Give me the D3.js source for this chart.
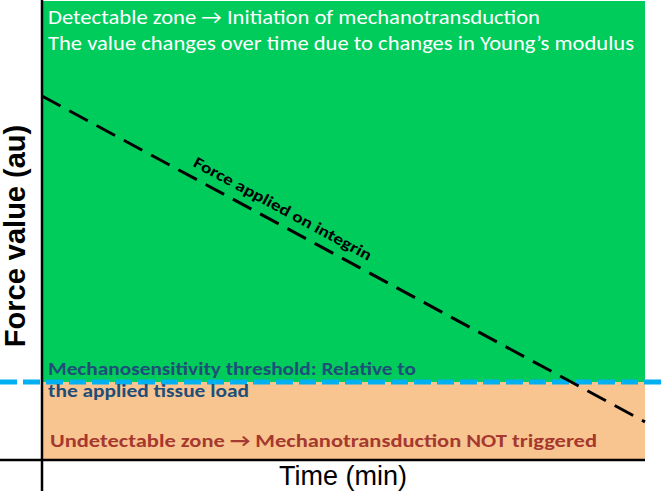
<!DOCTYPE html>
<html>
<head>
<meta charset="utf-8">
<script src="https://cdn.jsdelivr.net/npm/d3@7"></script>
<style>
  html, body { margin: 0; padding: 0; background: #ffffff; }
  svg { display: block; }
</style>
</head>
<body>
<div id="chart"></div>
<script>
// ---- data ----
const timeDomain = [0, 100];          // Time (min), arbitrary
const forceDomain = [0, 100];         // Force value (au), arbitrary
const forceLineTimes = [0, 100];
const forceLineValues = [79.3, 8.3];  // force applied on integrin
const thresholdValue = 17.0;          // mechanosensitivity threshold
const zoneNames = ["Undetectable", "Detectable"];
const zoneLower = [0, thresholdValue];
const zoneUpper = [thresholdValue, 100];
const zoneColors = ["#f8c591", "#00cc5c"];
const detectableText = [
  "Detectable zone \u2192 Initiation of mechanotransduction",
  "The value changes over time due to changes in Young\u2019s modulus"
];
const thresholdText = [
  "Mechanosensitivity threshold: Relative to",
  "the applied tissue load"
];
const undetectableText = "Undetectable zone \u2192 Mechanotransduction NOT triggered";
const lineLabel = "Force applied on integrin";
const xTitle = "Time (min)";
const yTitle = "Force value (au)";

// ---- layout ----
const W = 665, H = 493;
const svg = d3.select("#chart").append("svg")
  .attr("width", W).attr("height", H);

const x = d3.scaleLinear().domain(timeDomain).range([42, 645]);
const y = d3.scaleLinear().domain(forceDomain).range([460, 1]);

const bodyFont = "Carlito, Lato, 'Open Sans', sans-serif";

// zones
svg.selectAll("rect.zone")
  .data(zoneNames)
  .enter().append("rect")
  .attr("class", "zone")
  .attr("x", x(timeDomain[0]))
  .attr("width", x(timeDomain[1]) - x(timeDomain[0]))
  .attr("y", (d, i) => y(zoneUpper[i]))
  .attr("height", (d, i) => y(zoneLower[i]) - y(zoneUpper[i]))
  .attr("fill", (d, i) => zoneColors[i]);

// threshold dashed line (spans full width)
svg.append("line")
  .attr("x1", 0).attr("x2", W)
  .attr("y1", y(thresholdValue)).attr("y2", y(thresholdValue))
  .attr("stroke", "#00b0f0")
  .attr("stroke-width", 5)
  .attr("stroke-dasharray", "17,6");

// force line
const linePts = forceLineTimes.map((t, i) => [t, forceLineValues[i]]);
svg.append("path")
  .datum(linePts)
  .attr("d", d3.line().x(d => x(d[0])).y(d => y(d[1])))
  .attr("fill", "none")
  .attr("stroke", "#000")
  .attr("stroke-width", 3)
  .attr("stroke-dasharray", "21,10");

// axes
const xAxis = d3.axisBottom(x).tickValues([]).tickSizeOuter(0);
const gx = svg.append("g").attr("transform", `translate(0,${y(0)})`).call(xAxis);
gx.select(".domain").attr("d", `M${-x(0)},0H${x(100)}`)
  .attr("stroke", "#000").attr("stroke-width", 2.5);

const yAxis = d3.axisLeft(y).tickValues([]).tickSizeOuter(0);
const gy = svg.append("g").attr("transform", `translate(${x(0)},0)`).call(yAxis);
gy.select(".domain").attr("d", `M0,0V491`)
  .attr("stroke", "#000").attr("stroke-width", 2.5);

// axis titles
svg.append("text")
  .attr("x", 343).attr("y", 485)
  .attr("text-anchor", "middle")
  .attr("font-family", "'Liberation Sans', Arial, sans-serif")
  .attr("font-size", 27)
  .attr("fill", "#000")
  .text(xTitle);

svg.append("text")
  .attr("transform", "translate(25,236) rotate(-90)")
  .attr("text-anchor", "middle")
  .attr("font-family", "'Liberation Sans', Arial, sans-serif")
  .attr("font-weight", "bold")
  .attr("font-size", 29)
  .attr("fill", "#000")
  .text(yTitle);

// detectable zone text
const topWidths = [492, 586];
svg.selectAll("text.top")
  .data(detectableText)
  .enter().append("text")
  .attr("class", "top")
  .attr("x", 48)
  .attr("y", (d, i) => 24 + i * 26)
  .attr("font-family", bodyFont)
  .attr("font-size", 20)
  .attr("fill", "#ffffff")
  .attr("textLength", (d, i) => topWidths[i])
  .attr("lengthAdjust", "spacingAndGlyphs")
  .text(d => d);

// threshold text
const thrWidths = [368, 201];
svg.selectAll("text.thr")
  .data(thresholdText)
  .enter().append("text")
  .attr("class", "thr")
  .attr("x", 48)
  .attr("y", (d, i) => 375 + i * 22)
  .attr("font-family", bodyFont)
  .attr("font-weight", "bold")
  .attr("font-size", 17)
  .attr("fill", "#1f4e79")
  .attr("textLength", (d, i) => thrWidths[i])
  .attr("lengthAdjust", "spacingAndGlyphs")
  .text(d => d);

// undetectable text
svg.append("text")
  .attr("x", 50).attr("y", 447)
  .attr("font-family", bodyFont)
  .attr("font-weight", "bold")
  .attr("font-size", 18.5)
  .attr("fill", "#a5382f")
  .attr("textLength", 547)
  .attr("lengthAdjust", "spacingAndGlyphs")
  .text(undetectableText);

// line label, rotated along the force line
const p0 = [x(forceLineTimes[0]), y(forceLineValues[0])];
const p1 = [x(forceLineTimes[1]), y(forceLineValues[1])];
const ang = Math.atan2(p1[1] - p0[1], p1[0] - p0[0]) * 180 / Math.PI;
const labelT = 38.7; // time at which label is centred
svg.append("text")
  .attr("transform", `translate(${x(labelT)},${y(forceLineValues[0] + (forceLineValues[1] - forceLineValues[0]) * labelT / 100)}) rotate(${ang})`)
  .attr("y", -10)
  .attr("text-anchor", "middle")
  .attr("font-family", bodyFont)
  .attr("font-weight", "bold")
  .attr("font-size", 16)
  .attr("fill", "#000")
  .attr("textLength", 200)
  .attr("lengthAdjust", "spacingAndGlyphs")
  .text(lineLabel);
</script>
</body>
</html>
